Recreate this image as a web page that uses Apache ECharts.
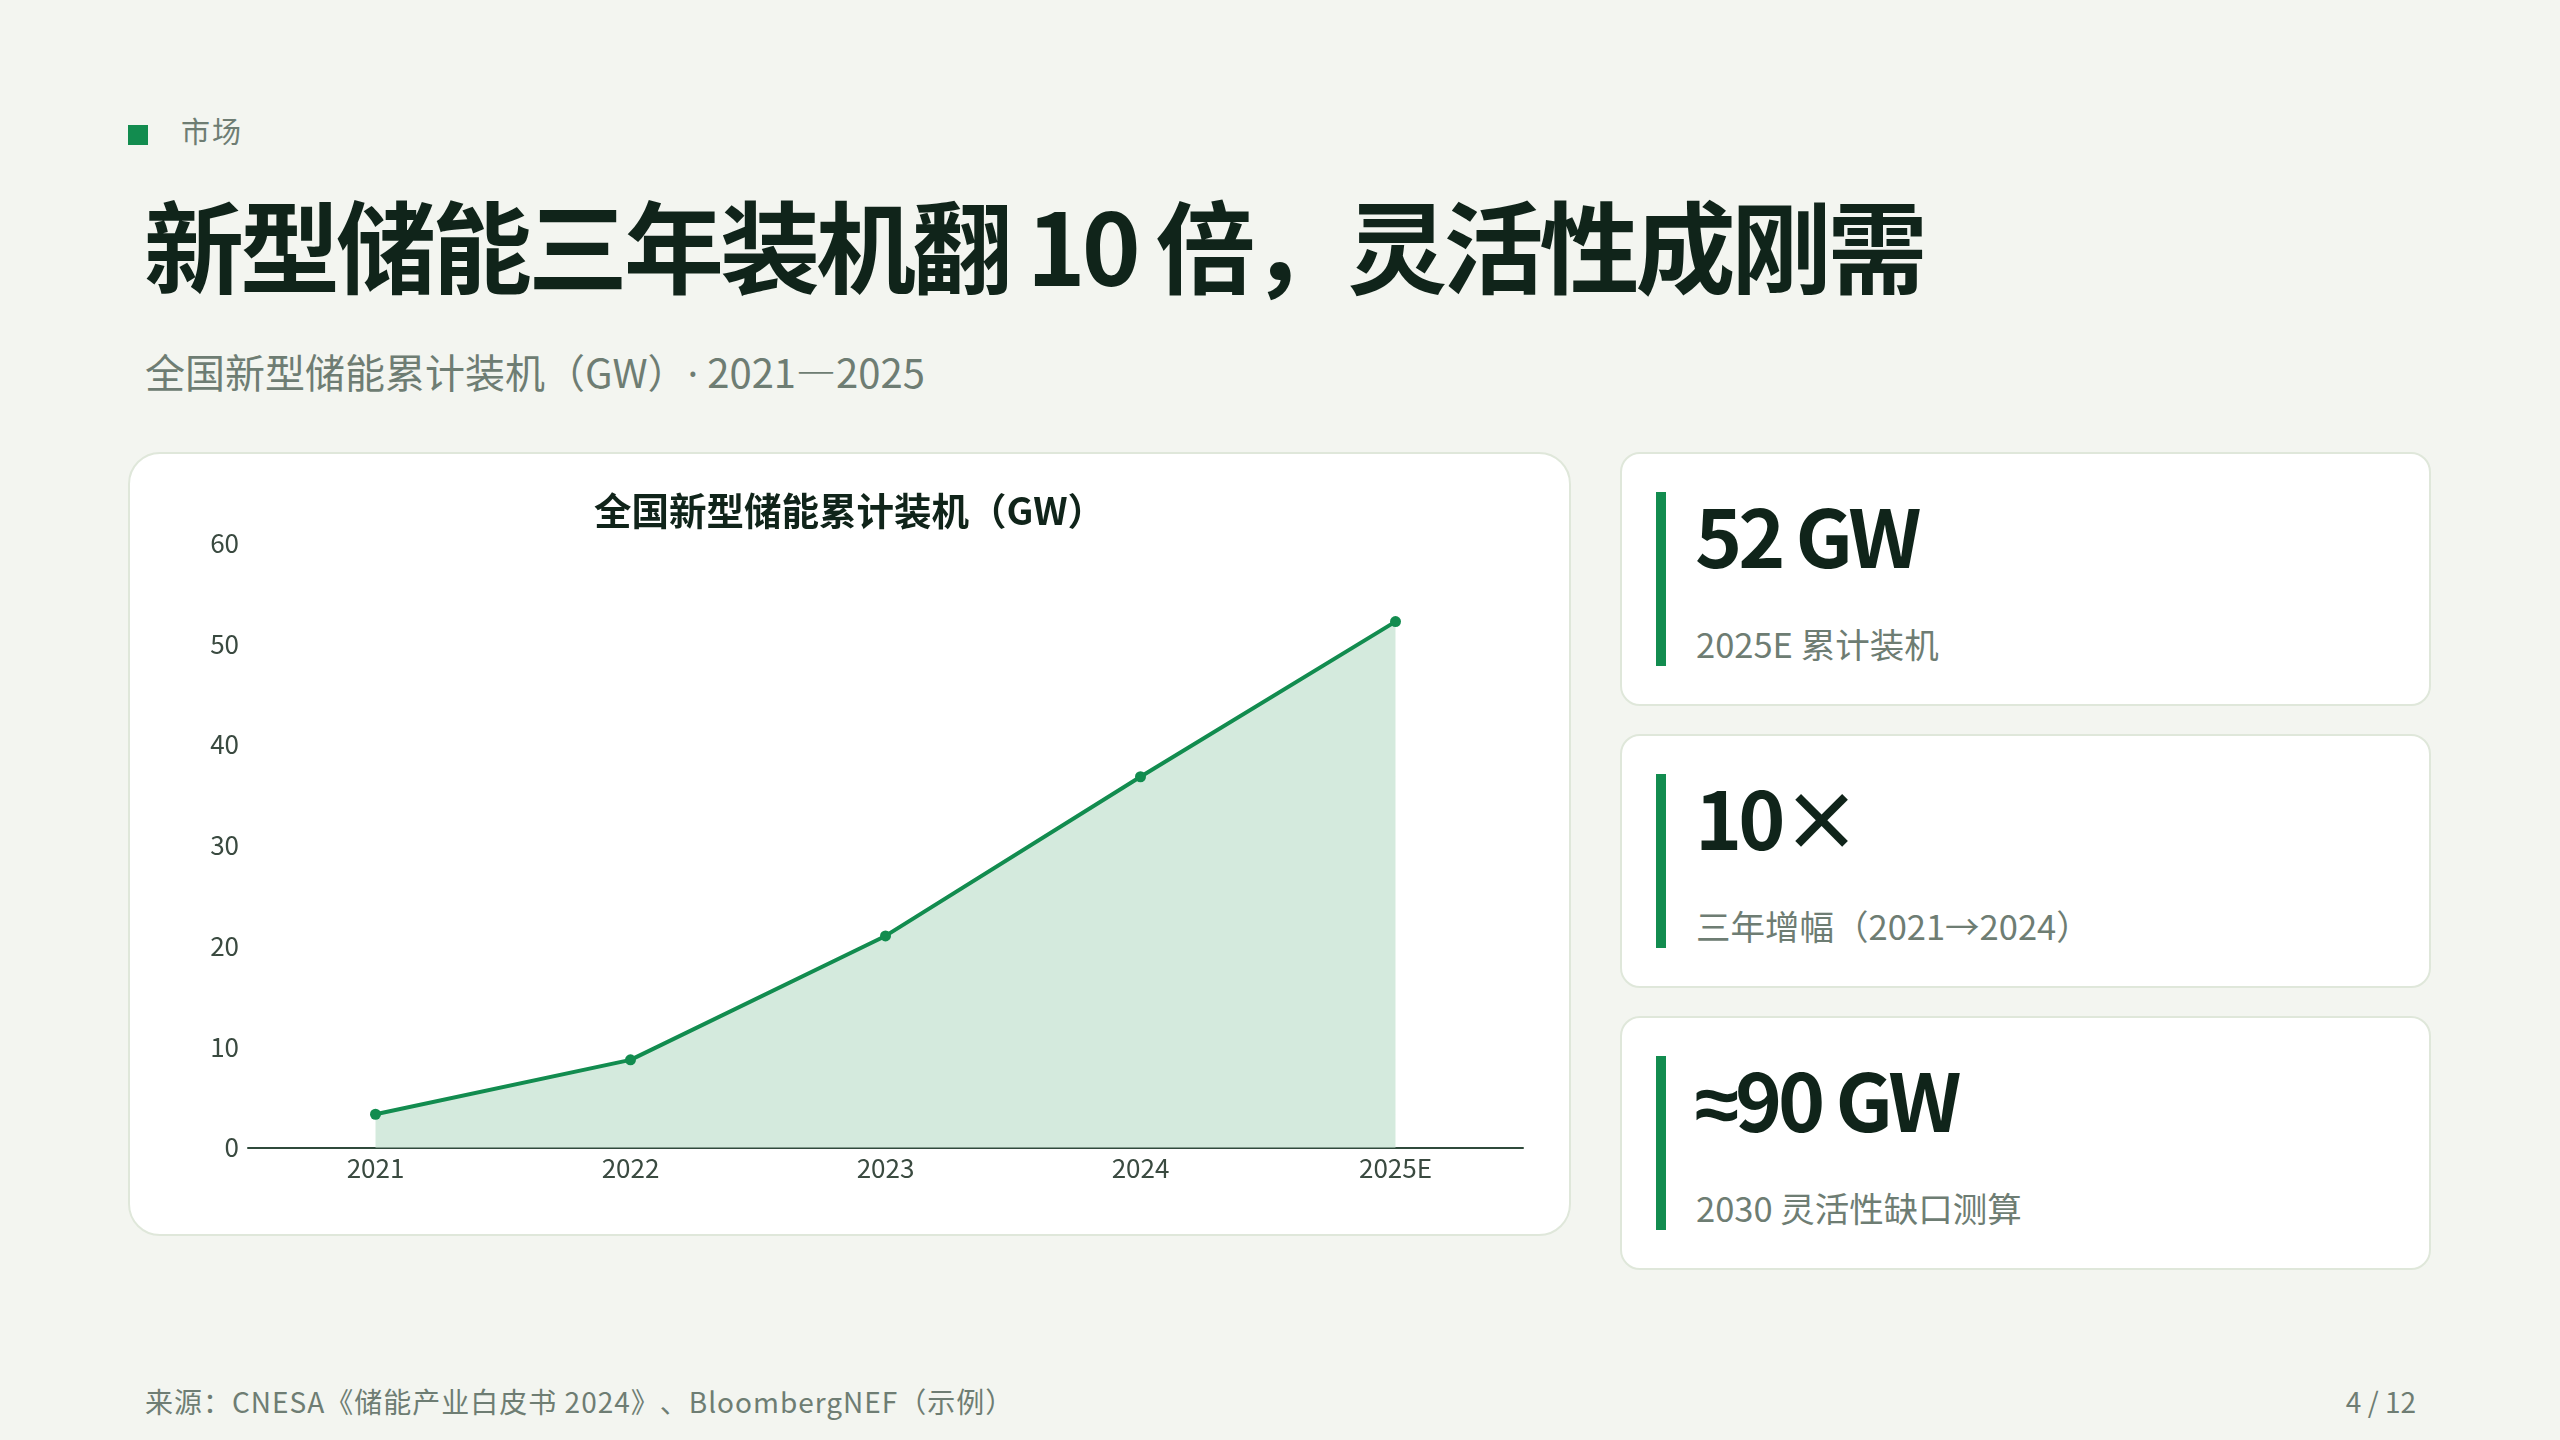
<!DOCTYPE html>
<html lang="zh-CN">
<head>
<meta charset="utf-8">
<title>新型储能三年装机翻 10 倍</title>
<script src="https://cdn.jsdelivr.net/npm/echarts@6/dist/echarts.min.js"></script>
<style>
  html, body { margin: 0; padding: 0; }
  body {
    width: 2560px; height: 1440px; position: relative; overflow: hidden;
    background: #f3f5f0;
    font-family: "Noto Sans CJK SC", "Noto Sans", sans-serif;
    color: #10241a;
    text-spacing-trim: space-all;
  }
  .abs { position: absolute; }
  .latin { font-family: "Noto Sans", "DejaVu Sans", sans-serif; }
  .approx { font-family: "Liberation Sans", "Noto Sans", sans-serif; }
  .tag-sq { left: 128px; top: 125px; width: 20px; height: 20px; background: #128c4f; }
  .tag { left: 181px; top: 113px; font-size: 29px; line-height: 34px; color: #6e7d73; letter-spacing: 2px; white-space: nowrap; }
  .title { left: 144px; top: 193px; font-size: 100px; line-height: 1; font-weight: 700; letter-spacing: -4px; white-space: nowrap; color: #10241a; }
  .subtitle { left: 145px; top: 347px; font-size: 40px; line-height: 1.2; color: #6e7d73; white-space: nowrap; }
  .card {
    box-sizing: border-box; background: #ffffff; border: 2px solid #dfe7da;
  }
  .chart-card { left: 128px; top: 452px; width: 1443px; height: 784px; border-radius: 32px; }
  #chart { position: absolute; left: 0; top: 0; width: 1439px; height: 780px; }
  .kpi { left: 1620px; width: 811px; height: 254px; border-radius: 20px; }
  .kpi .bar { position: absolute; left: 34px; top: 38px; width: 10px; height: 174px; background: #128c4f; }
  .kpi .num { position: absolute; left: 73px; top: 39px; font-size: 80px; line-height: 1; font-weight: 700; letter-spacing: -4px; color: #10241a; white-space: nowrap; }
  .kpi .lbl { position: absolute; left: 74px; top: 167px; font-size: 34.5px; line-height: 1.3; color: #6e7d73; white-space: nowrap; }
  .footer { left: 145px; top: 1383px; font-size: 28px; line-height: 36px; color: #6e7d73; white-space: nowrap; letter-spacing: 1px; }
  .page { right: 144px; top: 1383px; font-size: 28px; line-height: 36px; color: #6e7d73; white-space: nowrap; }
</style>
</head>
<body>
<div class="abs tag-sq"></div>
<div class="abs tag">市场</div>
<div class="abs title">新型储能三年装机翻 10 倍，灵活性成刚需</div>
<div class="abs subtitle">全国新型储能累计装机（GW）<span class="latin">·</span> 2021—2025</div>

<div class="abs card chart-card"><div id="chart"></div></div>

<div class="abs card kpi" style="top:452px"><div class="bar"></div><div class="num">52 GW</div><div class="lbl">2025E 累计装机</div></div>
<div class="abs card kpi" style="top:734px"><div class="bar"></div><div class="num">10×</div><div class="lbl">三年增幅（2021→2024）</div></div>
<div class="abs card kpi" style="top:1016px"><div class="bar"></div><div class="num"><span class="approx">≈</span>90 GW</div><div class="lbl">2030 灵活性缺口测算</div></div>

<div class="abs footer">来源：CNESA《储能产业白皮书 2024》、BloombergNEF（示例）</div>
<div class="abs page">4 / 12</div>

<script>
// ---- data ----
const chartTitle = '全国新型储能累计装机（GW）';
const categories = ['2021', '2022', '2023', '2024', '2025E'];
const cumulativeGW = [3.3, 8.7, 21.0, 36.8, 52.2];
const yMin = 0;
const yMax = 60;
const yStep = 10;

// ---- chart ----
const green = '#128c4f';
const chart = echarts.init(document.getElementById('chart'), null, { renderer: 'canvas' });
chart.setOption({
  animation: false,
  backgroundColor: 'transparent',
  textStyle: { fontFamily: '"Noto Sans CJK SC", "Noto Sans", sans-serif' },
  title: {
    text: chartTitle,
    left: 'center',
    top: 33,
    textStyle: { fontSize: 37.5, fontWeight: 'bold', color: '#10241a', fontFamily: '"Noto Sans CJK SC", sans-serif' }
  },
  grid: { left: 118, right: 46, top: 89, bottom: 86.5, containLabel: false },
  xAxis: {
    type: 'category',
    data: categories,
    boundaryGap: true,
    axisLine: { show: true, lineStyle: { color: '#2f4a3b', width: 2 } },
    axisTick: { show: false },
    axisLabel: { color: '#3a4a40', fontSize: 26, margin: 8 },
    splitLine: { show: false }
  },
  yAxis: {
    type: 'value',
    min: yMin,
    max: yMax,
    interval: yStep,
    axisLine: { show: false },
    axisTick: { show: false },
    axisLabel: { color: '#3a4a40', fontSize: 26, margin: 9 },
    splitLine: { show: false }
  },
  series: [{
    type: 'line',
    data: cumulativeGW,
    symbol: 'circle',
    symbolSize: 11,
    showSymbol: true,
    lineStyle: { color: green, width: 4 },
    itemStyle: { color: green },
    areaStyle: { color: '#d4eadd', opacity: 1 },
    z: 3
  }]
});
</script>
</body>
</html>
